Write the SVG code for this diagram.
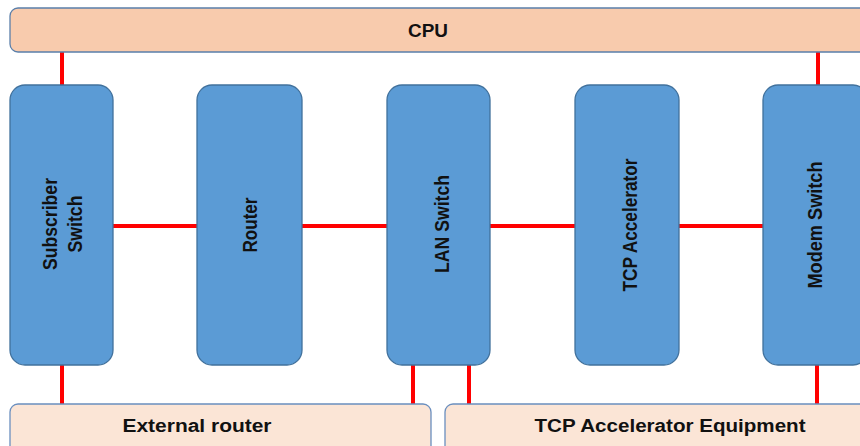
<svg xmlns="http://www.w3.org/2000/svg" width="860" height="446" viewBox="0 0 860 446">
  <style>
    .bus { fill: #F8CBAD; stroke: #5A7FAA; stroke-width: 1.3; }
    .dev { fill: #5B9BD5; stroke: #41719C; stroke-width: 1.3; }
    .ext { fill: #FBE5D6; stroke: #6A8FBF; stroke-width: 1.3; }
    .link { stroke: #FF0000; stroke-width: 4; fill: none; }
    .lbl { font-family: "Liberation Sans", Arial, sans-serif; font-weight: bold; fill: #111111; text-anchor: middle; }
    .vl { font-size: 20px; }
    .hl { font-size: 18px; }
  </style>

  <!-- wiring between units -->
  <g id="connectors">
    <line class="link" x1="62" y1="52" x2="62" y2="85"/>
    <line class="link" x1="818" y1="52" x2="818" y2="85"/>
    <line class="link" x1="113" y1="226" x2="197" y2="226"/>
    <line class="link" x1="302" y1="226" x2="387" y2="226"/>
    <line class="link" x1="490" y1="226" x2="575" y2="226"/>
    <line class="link" x1="679" y1="226" x2="763" y2="226"/>
    <line class="link" x1="62" y1="365" x2="62" y2="404"/>
    <line class="link" x1="413" y1="365" x2="413" y2="404"/>
    <line class="link" x1="469" y1="365" x2="469" y2="404"/>
    <line class="link" x1="817" y1="365" x2="817" y2="404"/>
  </g>

  <g id="cpu">
    <rect class="bus" x="10" y="8" width="870" height="44" rx="8"/>
    <text class="lbl hl" x="428" y="37" textLength="40" lengthAdjust="spacingAndGlyphs">CPU</text>
  </g>

  <g id="subscriber-switch">
    <rect class="dev" x="10" y="85" width="103" height="280" rx="15"/>
    <text class="lbl vl" x="57" y="224" transform="rotate(-90 57 224)" textLength="92" lengthAdjust="spacingAndGlyphs">Subscriber</text>
    <text class="lbl vl" x="82" y="224" transform="rotate(-90 82 224)" textLength="57" lengthAdjust="spacingAndGlyphs">Switch</text>
  </g>

  <g id="router">
    <rect class="dev" x="197" y="85" width="105" height="280" rx="15"/>
    <text class="lbl vl" x="257" y="225" transform="rotate(-90 257 225)" textLength="55" lengthAdjust="spacingAndGlyphs">Router</text>
  </g>

  <g id="lan-switch">
    <rect class="dev" x="387" y="85" width="103" height="280" rx="15"/>
    <text class="lbl vl" x="449" y="224" transform="rotate(-90 449 224)" textLength="98" lengthAdjust="spacingAndGlyphs">LAN Switch</text>
  </g>

  <g id="tcp-accelerator">
    <rect class="dev" x="575" y="85" width="104" height="280" rx="15"/>
    <text class="lbl vl" x="637" y="225" transform="rotate(-90 637 225)" textLength="133" lengthAdjust="spacingAndGlyphs">TCP Accelerator</text>
  </g>

  <g id="modem-switch">
    <rect class="dev" x="763" y="85" width="105" height="280" rx="15"/>
    <text class="lbl vl" x="822" y="225" transform="rotate(-90 822 225)" textLength="127" lengthAdjust="spacingAndGlyphs">Modem Switch</text>
  </g>

  <g id="external-router">
    <rect class="ext" x="10" y="404" width="421" height="60" rx="8"/>
    <text class="lbl hl" x="197" y="432" textLength="149" lengthAdjust="spacingAndGlyphs">External router</text>
  </g>

  <g id="tcp-accelerator-equipment">
    <rect class="ext" x="445" y="404" width="430" height="60" rx="8"/>
    <text class="lbl hl" x="670" y="432" textLength="271" lengthAdjust="spacingAndGlyphs">TCP Accelerator Equipment</text>
  </g>
</svg>
